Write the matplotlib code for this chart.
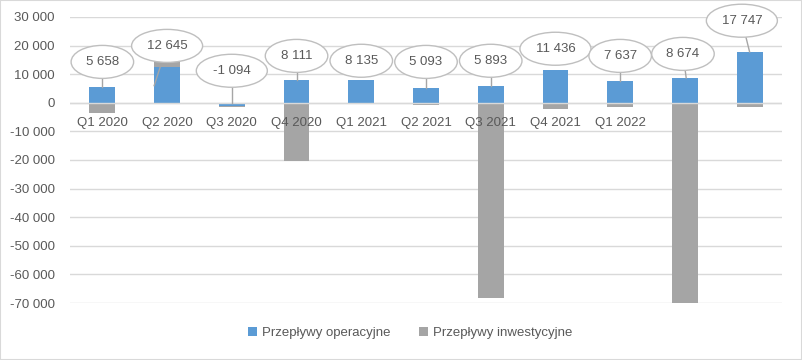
import matplotlib.pyplot as plt
from matplotlib.patches import Rectangle, Ellipse

plt.rcParams['font.family'] = ['Liberation Sans', 'DejaVu Sans']

quarters = ['Q1 2020', 'Q2 2020', 'Q3 2020', 'Q4 2020', 'Q1 2021', 'Q2 2021',
            'Q3 2021', 'Q4 2021', 'Q1 2022', '', '']
operacyjne = [5658, 12645, -1094, 8111, 8135, 5093, 5893, 11436, 7637, 8674, 17747]
inwestycyjne = [-3600, 2100, -350, -20500, 0, -900, -68400, -2100, -1600, -70500, -1600]

# callout placement (label centre, in data units) and leader line targets
lab_dx = [0, 0, 0, 0, 0, 0, 0, 0, 0, -0.03, -0.12]
lab_y = [14300, 19900, 11200, 16400, 14700, 14300, 14700, 18900, 16400, 17100, 28700]
lead_dx = [0, -0.2, 0, 0, 0, 0, 0, 0, 0, 0.02, 0.0]
lead_y = [5658, 6000, 0, 8111, None, 5093, 5893, None, 7637, 8674, 17747]

blue = '#5B9BD5'
grey = '#A5A5A5'
txt = '#595959'

fig = plt.figure(figsize=(8.02, 3.6), dpi=100)
ax = fig.add_axes([70 / 802, 1 - 303 / 360, 712 / 802, 286 / 360])

x = list(range(len(quarters)))
ax.bar(x, operacyjne, width=0.4, color=blue, zorder=2, label='Przepływy operacyjne')
bottoms = [o if (o > 0) == (i > 0) else 0 for o, i in zip(operacyjne, inwestycyjne)]
ax.bar(x, inwestycyjne, width=0.4, bottom=bottoms, color=grey, zorder=2,
       label='Przepływy inwestycyjne')

ax.set_xlim(-0.5, len(quarters) - 0.5)
ax.set_ylim(-70000, 30000)
ticks = list(range(-70000, 30001, 10000))
ax.set_yticks(ticks)
ax.set_yticklabels([f'{t:,}'.replace(',', ' ') for t in ticks])
ax.set_xticks([])
ax.tick_params(axis='y', length=0, labelsize=9.5, labelcolor=txt, pad=11)
for s in ax.spines.values():
    s.set_visible(False)
ax.grid(axis='y', color='#D9D9D9', linewidth=1, zorder=0)
ax.axhline(0, color='#D9D9D9', linewidth=1, zorder=3)

for i, q in enumerate(quarters):
    ax.annotate(q, xy=(i, 0), xytext=(0, -14.5), textcoords='offset points',
                ha='center', va='center', fontsize=9.5, color=txt, zorder=4)

# pixel -> data scale for the ellipse callouts
px_x = 1 / 64.7
px_y = 10000 / 28.6
for i, v in enumerate(operacyjne):
    label = f'{v:,}'.replace(',', ' ')
    cx, cy = i + lab_dx[i], lab_y[i]
    if lead_y[i] is not None:
        ax.plot([i + lead_dx[i], cx], [lead_y[i], cy], color='#A6A6A6', lw=1,
                zorder=5, clip_on=False)
    w = (20 + 8.5 * len(label)) * px_x
    ax.add_patch(Ellipse((cx, cy), w, 33 * px_y, fc='white', ec='#BFBFBF', lw=1,
                         zorder=6, clip_on=False))
    ax.text(cx, cy, label, ha='center', va='center', fontsize=9.5, color=txt,
            zorder=7)

fig.legend(loc='center', bbox_to_anchor=(410 / 802, 1 - 333 / 360), ncol=2,
           frameon=False, fontsize=9.5, labelcolor=txt, handlelength=0.7,
           handleheight=0.7, handletextpad=0.35, columnspacing=2.2)

fig.patches.append(Rectangle((0, 0), 1, 1, transform=fig.transFigure, fill=False,
                             ec='#D9D9D9', lw=1.5))

fig.savefig('out.png', dpi=100)
